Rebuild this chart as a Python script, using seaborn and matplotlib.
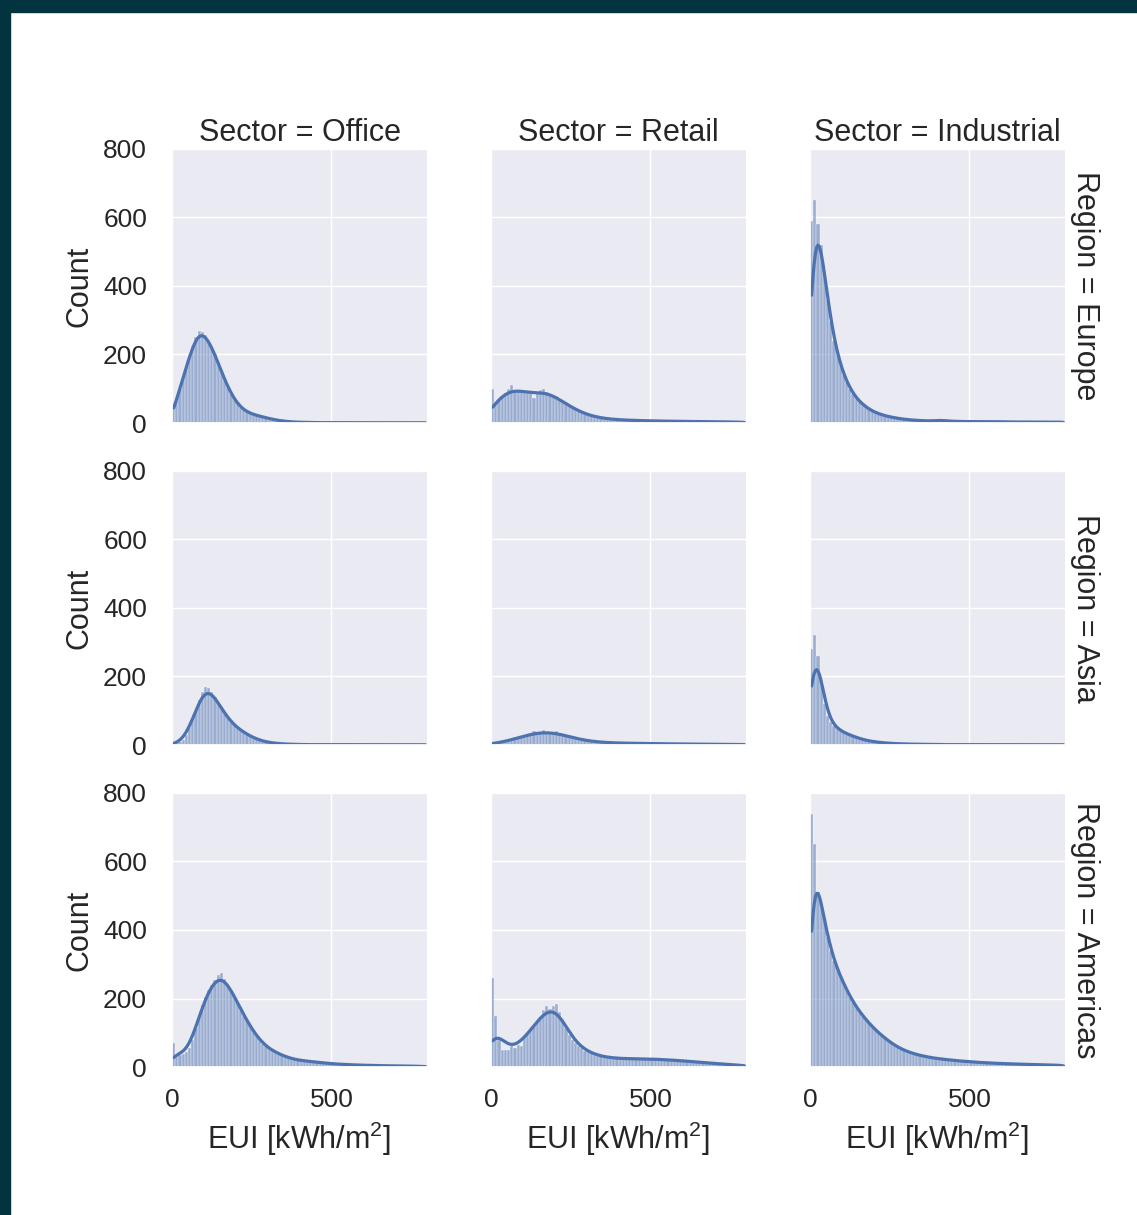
import numpy as np
import pandas as pd
import matplotlib
matplotlib.use("Agg")
import matplotlib.pyplot as plt
from matplotlib.patches import Rectangle
import seaborn as sns

# Counts, one value per 10 kWh/m2 bin from 0 to 800
office_europe = [40, 70, 100, 135, 165, 195, 225, 250, 270, 265,
                 258, 240, 222, 200, 175, 150, 125, 105, 85, 70,
                 55, 45, 38, 32, 28, 25, 22, 20, 18, 15,
                 13, 11, 9, 7, 6, 5, 4, 3, 3, 2,
                 2, 2, 2, 2, 1, 1, 1, 1, 1, 1,
                 1, 1, 1, 1, 1, 1, 1, 1, 1, 1,
                 1, 1, 1, 1, 1, 1, 1, 1, 1, 1,
                 1, 1, 1, 1, 1, 1, 1, 1, 1, 1]
retail_europe = [100, 60, 70, 80, 88, 100, 112, 95, 92, 95,
                 90, 92, 88, 72, 90, 95, 98, 90, 85, 82,
                 78, 68, 62, 55, 50, 44, 38, 34, 30, 26,
                 22, 20, 18, 16, 14, 13, 12, 11, 10, 10,
                 9, 9, 8, 8, 8, 7, 7, 7, 7, 6,
                 6, 6, 6, 6, 5, 5, 5, 5, 5, 5,
                 5, 5, 4, 4, 4, 4, 4, 4, 4, 4,
                 4, 4, 3, 3, 3, 3, 3, 3, 3, 3]
industrial_europe = [590, 650, 580, 520, 440, 360, 295, 240, 200, 170,
                     140, 120, 100, 85, 72, 62, 54, 47, 40, 35,
                     30, 27, 24, 21, 19, 17, 15, 14, 12, 11,
                     10, 9, 8, 8, 7, 7, 6, 6, 6, 6,
                     9, 9, 6, 5, 5, 5, 5, 4, 4, 4,
                     4, 4, 4, 4, 4, 4, 4, 4, 4, 4,
                     3, 3, 3, 3, 3, 3, 3, 3, 3, 3,
                     3, 3, 3, 3, 3, 3, 3, 3, 3, 3]

office_asia = [3, 5, 9, 16, 28, 50, 75, 100, 130, 155,
               168, 165, 155, 140, 122, 107, 92, 78, 66, 57,
               50, 43, 37, 31, 26, 21, 17, 14, 11, 9,
               7, 6, 5, 4, 3, 3, 2, 2, 2, 2,
               1, 1, 1, 1, 1, 1, 1, 1, 1, 1,
               1, 1, 1, 1, 1, 1, 1, 1, 1, 1,
               1, 1, 1, 1, 1, 1, 1, 1, 1, 1,
               1, 1, 1, 1, 1, 1, 1, 1, 1, 1]
retail_asia = [3, 4, 6, 8, 10, 12, 14, 17, 20, 23,
               26, 29, 33, 42, 35, 38, 44, 38, 38, 36,
               42, 33, 30, 27, 24, 21, 18, 16, 14, 12,
               11, 10, 9, 8, 8, 7, 7, 6, 6, 6,
               5, 5, 5, 5, 5, 5, 5, 5, 4, 4,
               4, 4, 4, 4, 3, 3, 3, 3, 3, 3,
               3, 3, 3, 3, 3, 3, 2, 2, 2, 2,
               2, 2, 2, 2, 2, 2, 2, 2, 2, 2]
industrial_asia = [280, 320, 260, 190, 120, 85, 66, 56, 48, 42,
                   37, 33, 29, 26, 22, 19, 16, 14, 12, 10,
                   9, 8, 7, 6, 5, 5, 4, 4, 3, 3,
                   3, 3, 2, 2, 2, 2, 2, 2, 2, 2,
                   1, 1, 1, 1, 1, 1, 1, 1, 1, 1,
                   1, 1, 1, 1, 1, 1, 1, 1, 1, 1,
                   1, 1, 1, 1, 1, 1, 1, 1, 1, 1,
                   1, 1, 1, 1, 1, 1, 1, 1, 1, 1]

office_americas = [70, 30, 35, 38, 45, 55, 80, 115, 150, 180,
                   205, 225, 240, 255, 268, 275, 258, 242, 226, 208,
                   190, 170, 150, 135, 118, 103, 90, 78, 68, 60,
                   52, 47, 43, 39, 34, 30, 27, 24, 22, 20,
                   19, 18, 17, 16, 15, 14, 13, 12, 11, 10,
                   9, 9, 8, 8, 7, 7, 6, 6, 6, 5,
                   5, 5, 5, 4, 4, 4, 4, 4, 3, 3,
                   3, 3, 3, 3, 3, 3, 2, 2, 2, 2]
retail_americas = [260, 150, 80, 50, 50, 50, 60, 55, 65, 60,
                   90, 100, 110, 120, 130, 142, 165, 178, 170, 178,
                   185, 160, 140, 115, 92, 80, 70, 62, 55, 48,
                   43, 40, 36, 33, 31, 29, 28, 27, 26, 25,
                   25, 25, 24, 24, 24, 24, 24, 24, 24, 24,
                   23, 23, 22, 22, 21, 21, 20, 20, 19, 19,
                   18, 17, 16, 15, 14, 14, 13, 12, 12, 11,
                   10, 9, 9, 8, 8, 7, 7, 6, 6, 5]
industrial_americas = [740, 650, 510, 470, 430, 380, 340, 310, 285, 265,
                       245, 225, 205, 190, 175, 162, 150, 138, 128, 118,
                       108, 100, 92, 84, 77, 70, 64, 58, 53, 49,
                       45, 42, 39, 36, 34, 32, 30, 28, 27, 25,
                       24, 23, 22, 21, 20, 19, 18, 17, 17, 16,
                       15, 14, 14, 13, 13, 12, 12, 11, 11, 10,
                       10, 10, 9, 9, 9, 8, 8, 8, 8, 7,
                       7, 7, 7, 6, 6, 6, 6, 6, 5, 5]

regions = ["Europe", "Asia", "Americas"]
sectors = ["Office", "Retail", "Industrial"]
counts = {
    ("Europe", "Office"): office_europe,
    ("Europe", "Retail"): retail_europe,
    ("Europe", "Industrial"): industrial_europe,
    ("Asia", "Office"): office_asia,
    ("Asia", "Retail"): retail_asia,
    ("Asia", "Industrial"): industrial_asia,
    ("Americas", "Office"): office_americas,
    ("Americas", "Retail"): retail_americas,
    ("Americas", "Industrial"): industrial_americas,
}
# kde smoothing per panel, tuned by eye
bw_adjust = {
    ("Europe", "Office"): 1.0, ("Europe", "Retail"): 1.0,
    ("Europe", "Industrial"): 0.82,
    ("Asia", "Office"): 1.0, ("Asia", "Retail"): 1.0,
    ("Asia", "Industrial"): 0.72,
    ("Americas", "Office"): 1.0, ("Americas", "Retail"): 0.85,
    ("Americas", "Industrial"): 0.7,
}

bin_edges = np.arange(0, 810, 10)
bin_mids = bin_edges[:-1] + 5

# expand the bin counts back into observations
frames = []
for (reg, sec), c in counts.items():
    vals = np.repeat(bin_mids, c)
    frames.append(pd.DataFrame({"EUI": vals, "Region": reg, "Sector": sec}))
df = pd.concat(frames, ignore_index=True)


def hist_kde(data, **kws):
    key = (data["Region"].iloc[0], data["Sector"].iloc[0])
    sns.histplot(data=data, x="EUI", bins=bin_edges, kde=True,
                 kde_kws={"bw_adjust": bw_adjust[key]},
                 line_kws={"linewidth": 2.3}, **kws)


sns.set_theme(style="darkgrid")
plt.rcParams["font.family"] = ["Liberation Sans", "DejaVu Sans"]
plt.rcParams["mathtext.fontset"] = "custom"
plt.rcParams["mathtext.rm"] = "Liberation Sans"
plt.rcParams["axes.titlesize"] = 22
plt.rcParams["axes.labelsize"] = 22
plt.rcParams["xtick.labelsize"] = 19
plt.rcParams["ytick.labelsize"] = 19
plt.rcParams["text.color"] = "#262626"

g = sns.FacetGrid(df, row="Region", col="Sector", row_order=regions,
                  col_order=sectors, margin_titles=True, height=3.5)
g.map_dataframe(hist_kde)
g.set(xlim=(0, 800), ylim=(0, 800), xticks=[0, 500],
      yticks=[0, 200, 400, 600, 800])
g.set_axis_labels("EUI [kWh/m$^2$]", "Count")

fig = g.figure
fig.set_size_inches(11.37, 12.15)
fig.subplots_adjust(left=0.1513, right=0.9367, top=0.8774, bottom=0.1218,
                    wspace=0.251, hspace=0.175)
for ax in g.axes.flat:
    ax.tick_params(axis="y", pad=12)
    ax.tick_params(axis="x", pad=9)
    ax.xaxis.labelpad = 6
    ax.yaxis.labelpad = 6

# dark frame on top and left edge
fig.add_artist(Rectangle((0, 1 - 12 / 1215), 1, 12 / 1215,
                         transform=fig.transFigure, color="#023440", zorder=10))
fig.add_artist(Rectangle((0, 0), 10 / 1137, 1, transform=fig.transFigure,
                         color="#023440", zorder=10))

fig.savefig("out.png", dpi=100)
